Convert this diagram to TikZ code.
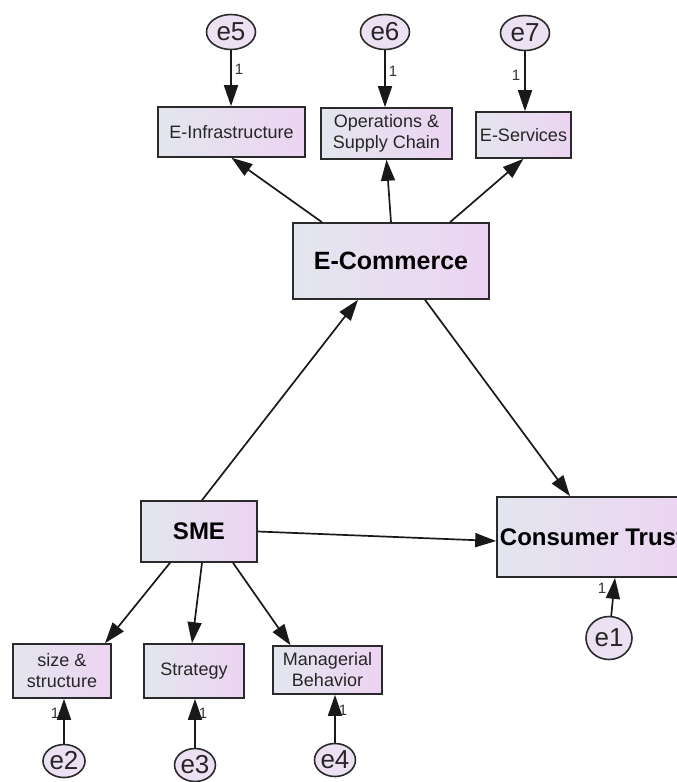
\documentclass[tikz,border=0pt]{standalone}
\usepackage{fontspec}
\setmainfont{Liberation Sans}
\usetikzlibrary{shapes.geometric,arrows.meta}
\definecolor{boxL}{HTML}{E3E6EE}
\definecolor{boxR}{HTML}{ECD4F2}
\definecolor{errfill}{HTML}{ECE1F3}
\definecolor{edge}{HTML}{2A2A2A}
\tikzset{
  obsbox/.style={rectangle, draw=edge, line width=1.6pt, left color=boxL, right color=boxR,
    inner sep=0pt, align=center, font=\fontsize{18}{21}\selectfont, text=black!85},
  latbox/.style={obsbox, font=\fontsize{25}{28}\selectfont\bfseries, text=black},
  errnode/.style={ellipse, draw=edge, line width=1.6pt, fill=errfill, inner sep=0pt,
    font=\fontsize{26}{28}\selectfont, text=black!85},
  arr/.style={line width=1.7pt, draw=black!90, -{Triangle[length=21pt,width=14pt]}},
  onelbl/.style={font=\fontsize{15}{16}\selectfont, inner sep=0pt, text=black!80}
}
\begin{document}
\begin{tikzpicture}[x=1pt,y=-1pt]
\useasboundingbox (0,0) rectangle (677,782);
\clip (0,0) rectangle (677,782);
% indicator boxes top
\node[obsbox, minimum width=147pt, minimum height=50pt] (einf) at (231.5,132) {E-Infrastructure};
\node[obsbox, minimum width=131pt, minimum height=51pt] (ops) at (386.5,133.5) {Operations \&\\Supply Chain};
\node[obsbox, minimum width=95pt, minimum height=46pt] (eserv) at (523.5,135) {E-Services};
% latent
\node[latbox, minimum width=196pt, minimum height=76pt] (ecom) at (391,261) {E-Commerce};
\node[latbox, minimum width=116pt, minimum height=61pt, font=\fontsize{24}{27}\selectfont\bfseries] (sme) at (199,531.5) {SME};
\node[latbox, minimum width=190pt, minimum height=80pt, font=\fontsize{24}{27}\selectfont\bfseries] (ct) at (592,537) {Consumer Trust};
% indicator boxes bottom
\node[obsbox, minimum width=98pt, minimum height=54pt] (size) at (62,671) {size \&\\structure};
\node[obsbox, minimum width=100pt, minimum height=54pt] (strat) at (194,671) {Strategy};
\node[obsbox, minimum width=109pt, minimum height=48pt] (mgr) at (327.5,670) {Managerial\\Behavior};
% errors
\node[errnode, minimum width=49pt, minimum height=35pt] (e5) at (231,32) {e5};
\node[errnode, minimum width=49pt, minimum height=35pt] (e6) at (385,32) {e6};
\node[errnode, minimum width=49pt, minimum height=35pt] (e7) at (525,33) {e7};
\node[errnode, minimum width=42pt, minimum height=33pt] (e2) at (64,761) {e2};
\node[errnode, minimum width=40pt, minimum height=33pt] (e3) at (195,765) {e3};
\node[errnode, minimum width=41pt, minimum height=33pt] (e4) at (335,760) {e4};
\node[errnode, minimum width=46pt, minimum height=43pt] (e1) at (609,638) {e1};
% error arrows
\draw[arr] (e5.south) -- (e5.south |- einf.north);
\draw[arr] (e6.south) -- (e6.south |- ops.north);
\draw[arr] (e7.south) -- (e7.south |- eserv.north);
\draw[arr] (e2.north) -- (e2.north |- size.south);
\draw[arr] (e3.north) -- (e3.north |- strat.south);
\draw[arr] (e4.north) -- (e4.north |- mgr.south);
\draw[arr] (e1) -- ([xshift=23pt]ct.south);
% loadings
\draw[arr] ([xshift=-69pt]ecom.north) -- (einf.south);
\draw[arr] (ecom.north) -- (ops.south);
\draw[arr] ([xshift=59pt]ecom.north) -- (eserv.south);
\draw[arr] ([xshift=-29pt]sme.south) -- ([xshift=43pt]size.north);
\draw[arr] ([xshift=3pt]sme.south) -- ([xshift=-2pt]strat.north);
\draw[arr] ([xshift=34pt]sme.south) -- ([xshift=-37pt]mgr.north);
% structural paths
\draw[arr] ([xshift=3pt]sme.north) -- ([xshift=-33pt]ecom.south);
\draw[arr] ([xshift=34pt]ecom.south) -- ([xshift=-22pt]ct.north);
\draw[arr] (sme.east) -- ([yshift=-4pt]ct.west);
% labels "1"
\node[onelbl] (l5) at (239,69) {1};
\node[onelbl] (l6) at (393,71) {1};
\node[onelbl] (l7) at (516,75) {1};
\node[onelbl] (l2) at (55,713) {1};
\node[onelbl] (l3) at (203,713) {1};
\node[onelbl] (l4) at (343,710) {1};
\node[onelbl] (l1) at (602,588) {1};
\end{tikzpicture}
\end{document}
